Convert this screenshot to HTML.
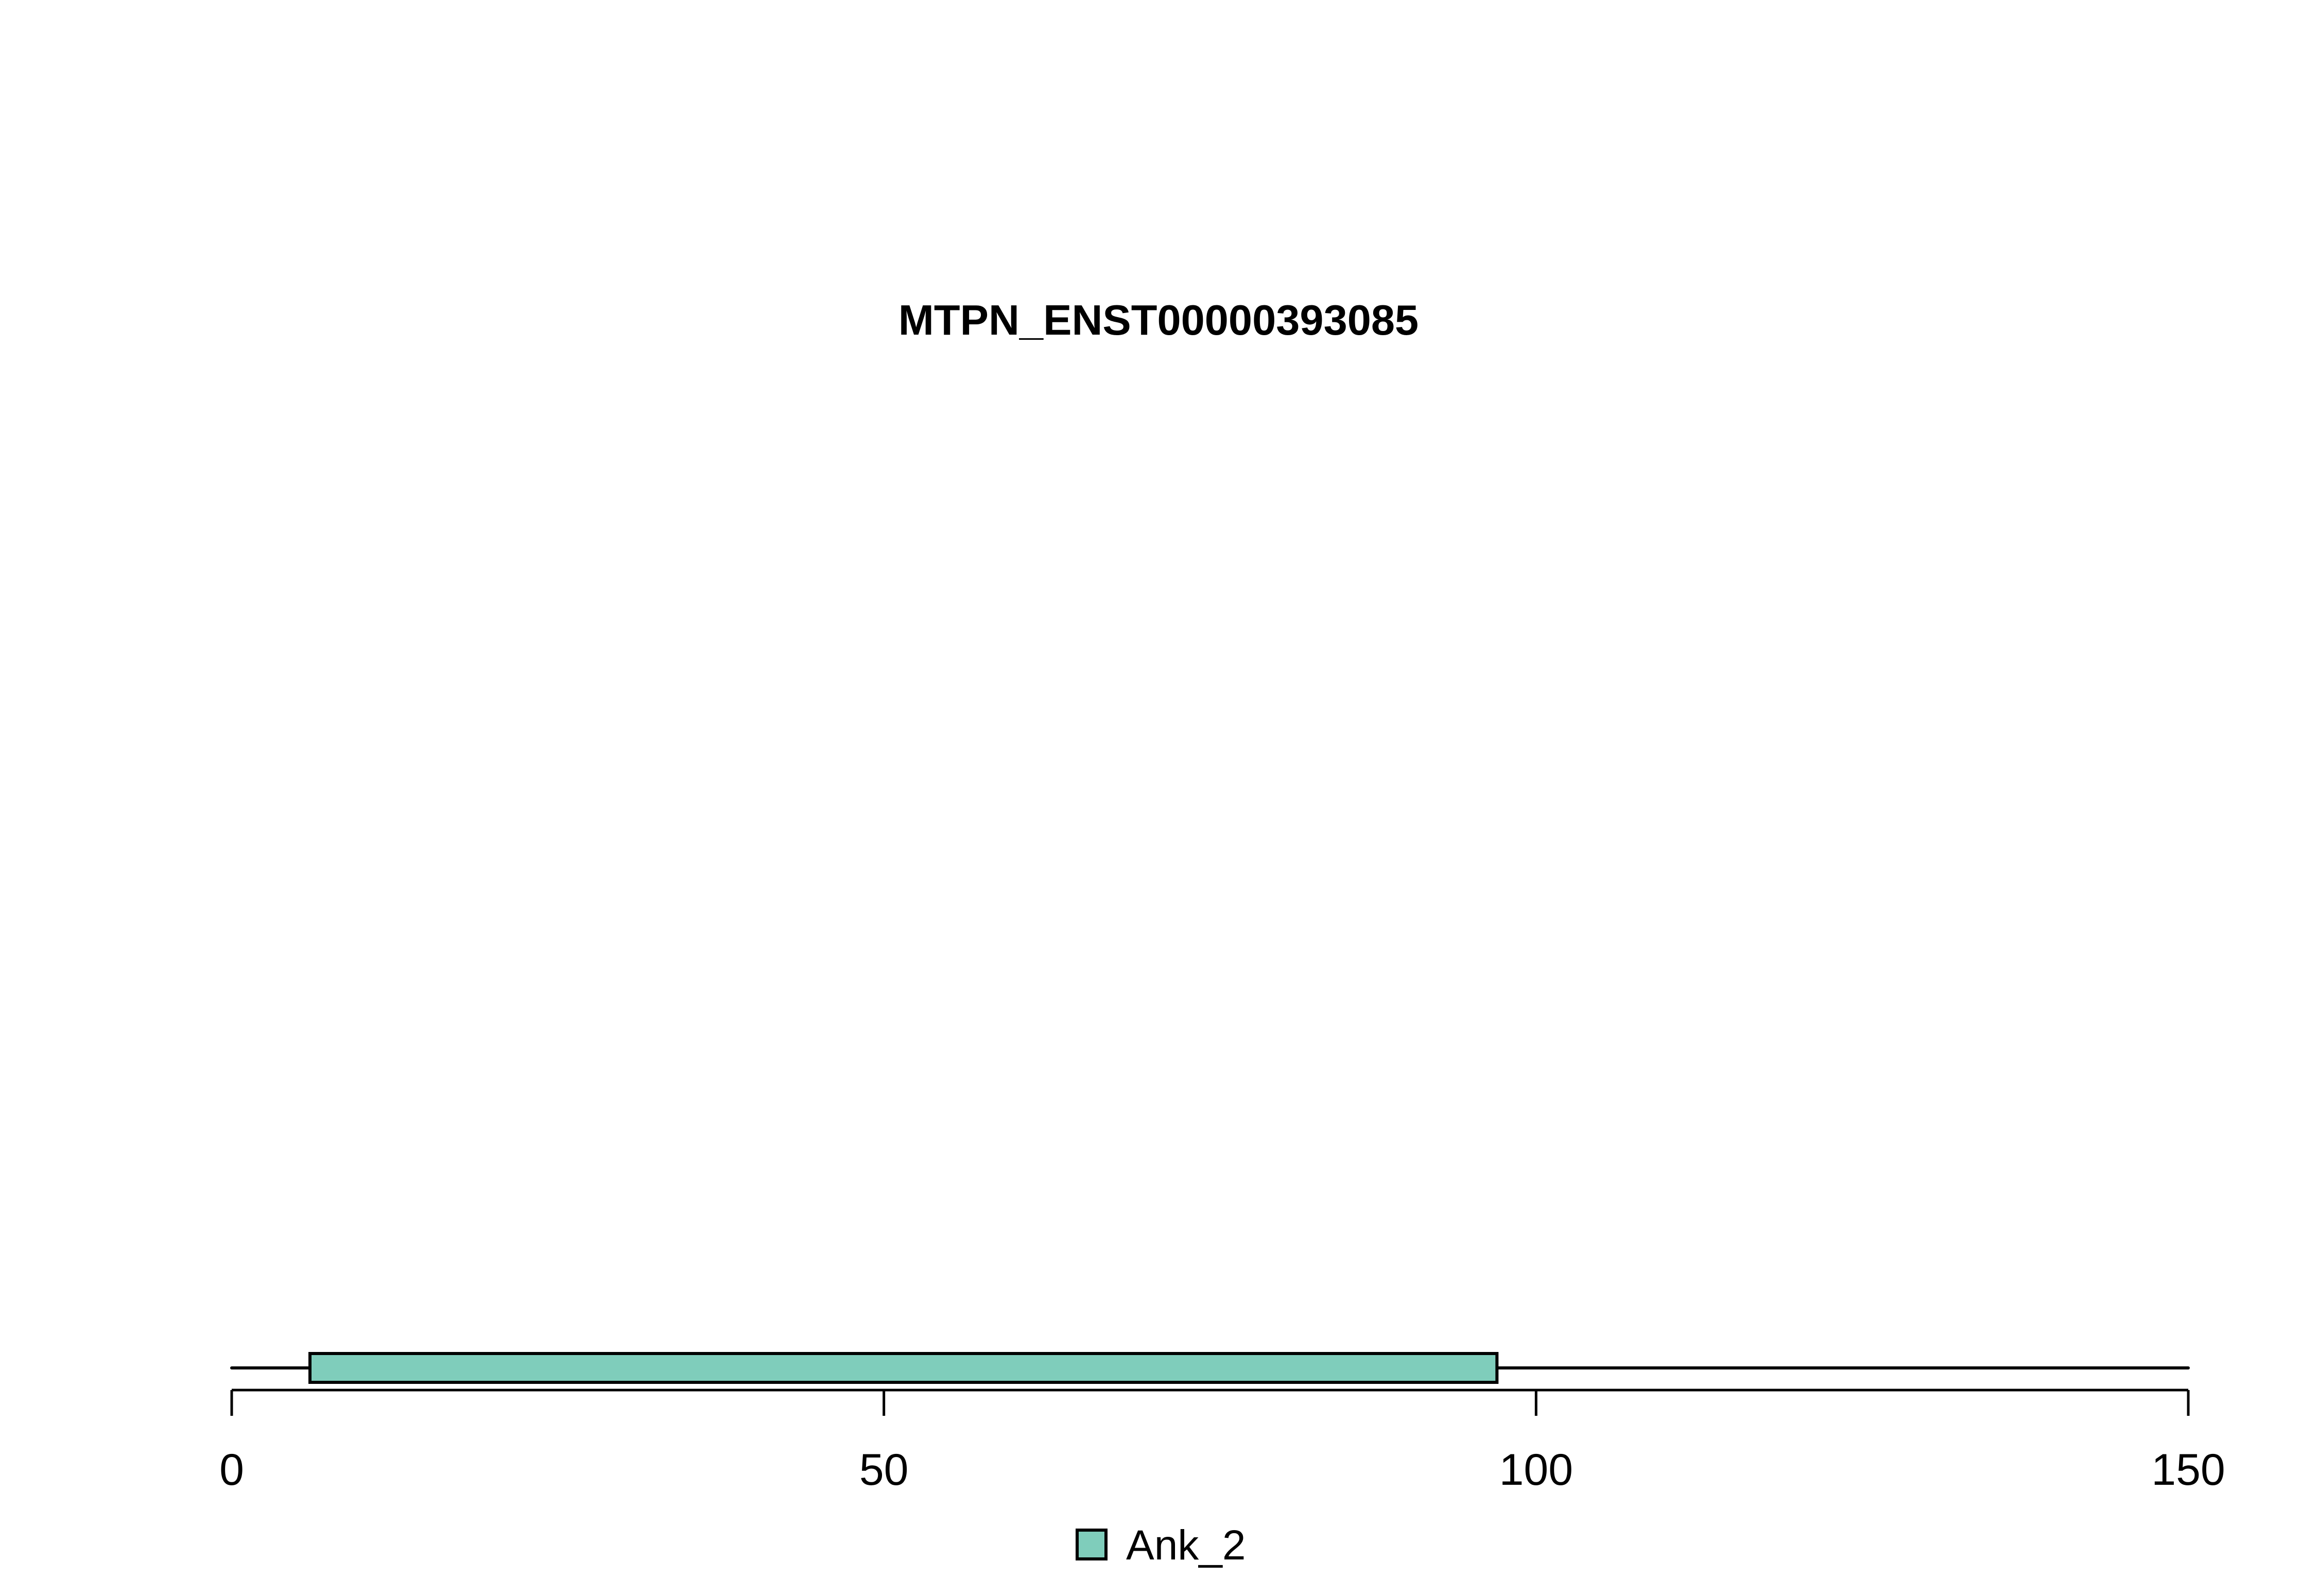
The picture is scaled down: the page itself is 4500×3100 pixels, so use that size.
<!DOCTYPE html>
<html><head><meta charset="utf-8"><style>
html,body{margin:0;padding:0;background:#fff;}
svg{display:block;}
text{font-family:"Liberation Sans",Arial,sans-serif;}
</style></head><body>
<svg id="chart" width="4500" height="3100" viewBox="0 0 4500 3100" xmlns="http://www.w3.org/2000/svg">
<rect width="4500" height="3100" fill="#fff"/>
<text x="2250" y="650" font-size="83" font-weight="bold" text-anchor="middle">MTPN_ENST00000393085</text>
<g id="plot"></g>
<g>
<rect x="2092" y="2972" width="56" height="56" fill="#7fcdbb" stroke="#000" stroke-width="6"/>
<text x="2187" y="3029" font-size="82">Ank_2</text>
</g>
</svg>
<script>
const domainNames = ["Ank_2"];
const domainStarts = [6];
const domainEnds = [97];
const proteinLength = [150];
const tickValues = [0, 50, 100, 150];
const tickLabels = ["0", "50", "100", "150"];

const NS = "http://www.w3.org/2000/svg";
const x0 = 450, x1 = 4250, xmin = 0, xmax = 150;
function xs(v){ return x0 + (v - xmin) / (xmax - xmin) * (x1 - x0); }
const g = document.getElementById("plot");
function mk(tag, attrs){ const e = document.createElementNS(NS, tag); for (const k in attrs) e.setAttribute(k, attrs[k]); g.appendChild(e); return e; }

const backbone = mk("line", {x1: xs(0), x2: xs(proteinLength[0]), y1: 2657, y2: 2657, stroke: "#000", "stroke-width": 6, "stroke-linecap": "round"});



domainNames.forEach((n, i) => {
  const r = mk("rect", {x: xs(domainStarts[i]), y: 2629, width: xs(domainEnds[i]) - xs(domainStarts[i]), height: 56, fill: "#7fcdbb", stroke: "#000", "stroke-width": 6});
  
  
});

const axis = mk("line", {x1: xs(tickValues[0]), x2: xs(tickValues[tickValues.length - 1]), y1: 2700, y2: 2700, stroke: "#000", "stroke-width": 5});



tickValues.forEach((v, i) => {
  const t = mk("line", {x1: xs(v), x2: xs(v), y1: 2700, y2: 2750, stroke: "#000", "stroke-width": 5});
  
  
  const l = mk("text", {x: xs(v), y: 2884, "font-size": 86, "text-anchor": "middle"});
  l.textContent = tickLabels[i];
  
  
});
</script>
</body></html>
